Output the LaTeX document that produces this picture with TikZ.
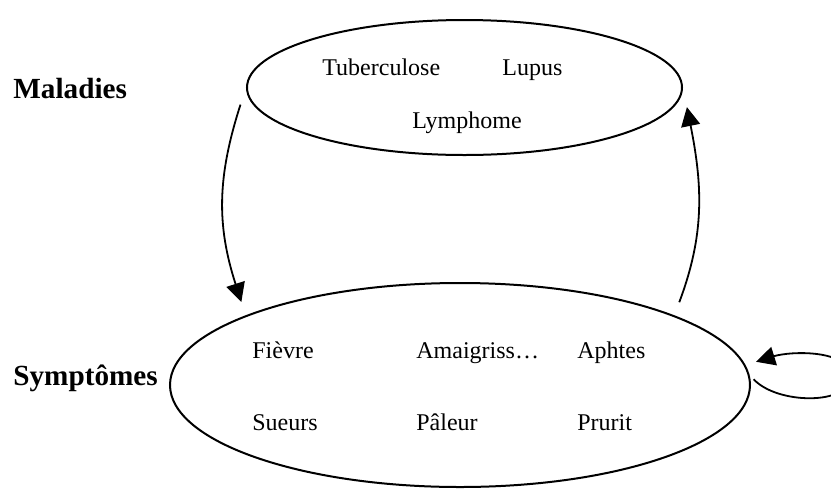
\documentclass[tikz,border=0pt]{standalone}
\usepackage{fontspec}
\setmainfont{Liberation Serif}
\usetikzlibrary{shapes.geometric,arrows.meta}
\begin{document}
\begin{tikzpicture}[x=0.5pt,y=-0.5pt,
  cloud/.style={draw,ellipse,line width=1pt,inner sep=0pt},
  term/.style={anchor=base west,inner sep=0pt,font=\fontsize{12}{14}\selectfont},
  group/.style={anchor=base west,inner sep=0pt,font=\fontsize{14.6}{17}\selectfont\bfseries},
  link/.style={line width=0.9pt,-{Triangle[length=9.5pt,width=9.5pt]}}]
\useasboundingbox (0,0) rectangle (831,489);

% the two sets
\node[cloud,minimum width=217.5pt,minimum height=67.5pt] (mal) at (464.5,87.5) {};
\node[cloud,minimum width=290pt,minimum height=102pt] (sym) at (460,385) {};

% set names
\node[group] (lmal) at (13,98) {Maladies};
\node[group] (lsym) at (13,385) {Symptômes};

% diseases
\node[term] (tub) at (322,75) {Tuberculose};
\node[term] (lup) at (502,75) {Lupus};
\node[term] (lym) at (412,128) {Lymphome};

% symptoms
\node[term] (fie) at (252,358) {Fièvre};
\node[term] (ama) at (416,358) {Amaigriss…};
\node[term] (aph) at (577,358) {Aphtes};
\node[term] (sue) at (252,430) {Sueurs};
\node[term] (pal) at (416,430) {Pâleur};
\node[term] (pru) at (577,430) {Prurit};

% relations
\draw[link,shorten <=9pt,shorten >=7pt] (mal.west) .. controls +(-29,90) and +(-29,-90) .. (sym.162);
\draw[link,shorten <=7pt,shorten >=10pt] (sym.18) .. controls +(30,-80) and +(20,100) .. (mal.east);
\coordinate (loopR) at (850,377);
\draw[link,shorten <=3pt,shorten >=5.5pt] (sym.2) .. controls +(28,30) and +(0,28) .. (loopR)
  .. controls +(0,-28) and +(45,-14) .. (sym.4);
\end{tikzpicture}
\end{document}
